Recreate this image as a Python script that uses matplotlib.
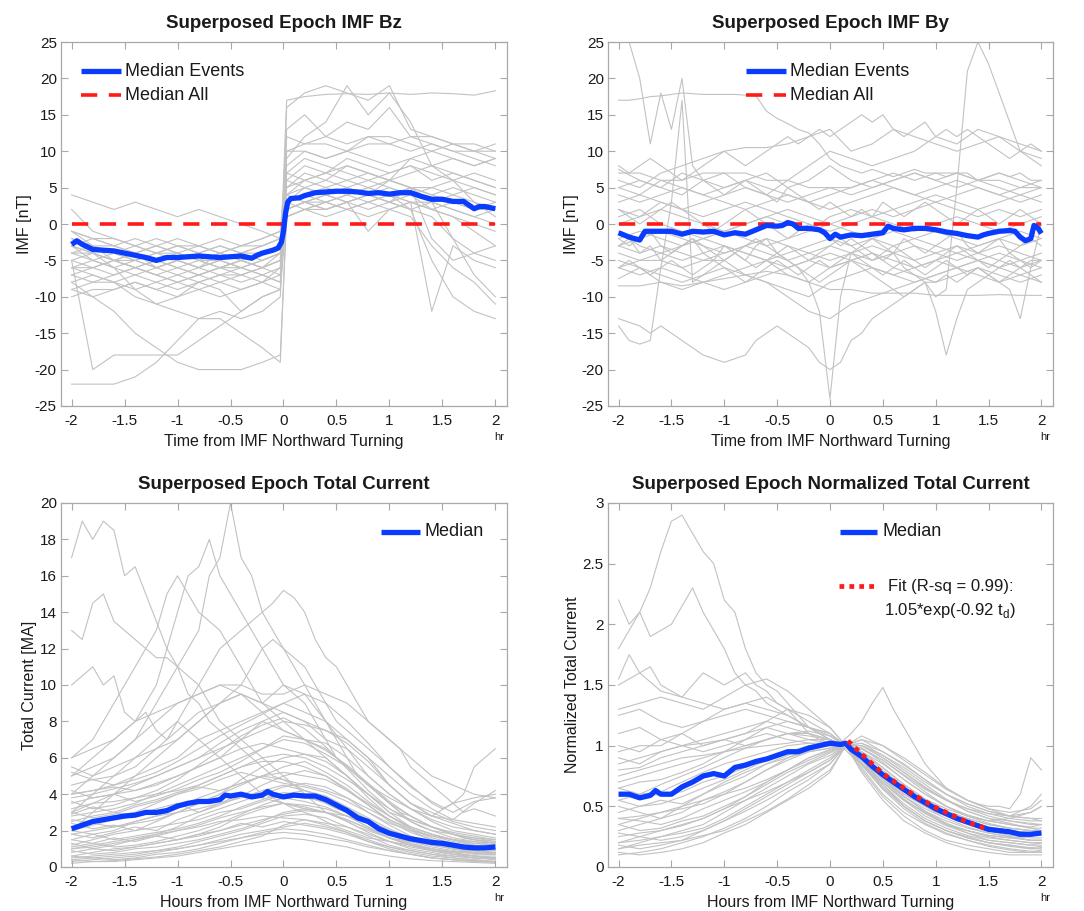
import matplotlib
matplotlib.use('Agg')
import matplotlib.pyplot as plt
from matplotlib.lines import Line2D

W, H = 1084, 911
plt.rcParams['font.family'] = ['Liberation Sans', 'DejaVu Sans']
plt.rcParams['axes.unicode_minus'] = False

# ---------------- x tick labels ----------------
X_TICKS = [-2, -1.5, -1, -0.5, 0, 0.5, 1, 1.5, 2]
X_TICKLABELS = ['-2', '-1.5', '-1', '-0.5', '0', '0.5', '1', '1.5', '2']

# ---------------- Panel 1: IMF Bz ----------------
T_BZ = [-2, -1.8, -1.6, -1.4, -1.2, -1.0, -0.8, -0.6, -0.4, -0.2, -0.03,
        0.03, 0.2, 0.4, 0.6, 0.8, 1.0, 1.2, 1.4, 1.6, 1.8, 2.0]
BZ_EVENTS = [
    [-3, -4, -5, -4, -5, -4, -5, -6, -5, -4, -3, 3, 4, 5, 4, 5, 4, 5, 4, 3, 2, 2],
    [-2, -3, -3, -4, -3, -4, -3, -4, -3, -3, -2, 2, 3, 3, 4, 3, 4, 3, 3, 2, 1, 0],
    [-5, -6, -7, -6, -7, -6, -7, -6, -6, -5, -4, 5, 6, 7, 6, 7, 6, 5, 5, 4, 5, 4],
    [-1, -2, -2, -3, -2, -3, -3, -2, -3, -2, -1, 6, 8, 7, 9, 8, 7, 8, 6, 7, 6, 5],
    [-7, -8, -8, -9, -8, -7, -8, -7, -8, -7, -6, 8, 10, 9, 10, 9, 8, 9, 10, 9, 8, 9],
    [-4, -5, -6, -5, -6, -7, -6, -5, -6, -7, -8, 16, 18, 19, 18, 17, 19, 13, 12, 11, 10, 10],
    [-9, -10, -9, -8, -9, -10, -9, -8, -9, -8, -7, 10, 11, 11, 10, 11, 11, 10, 11, 10, 10, 11],
    [-22, -22, -22, -21, -19, -16, -13, -13, -15, -17, -19, 2, 3, 4, 3, 4, 3, 4, 2, 3, 2, 3],
    [-5, -20, -18, -18, -18, -18, -16, -14, -12, -10, -9, 1, 2, 3, 2, 3, 4, 2, -5, -10, -12, -13],
    [-8, -10, -12, -15, -17, -19, -20, -20, -20, -19, -18, 1, 2, 2, 3, 2, 3, 2, 1, -2, -4, -5],
    [-6, -7, -8, -10, -11, -12, -13, -12, -13, -12, -10, 12, 11, 12, 11, 12, 12, 11, 10, 11, 11, 10],
    [-3, -4, -5, -6, -5, -6, -7, -6, -5, -6, -5, 17, 17.5, 17.8, 17.9, 17.8, 18, 17.8, 18, 17.9, 17.7, 18.3],
    [-4, -4, -5, -5, -4, -5, -6, -5, -4, -3, -2, 9, 12, 14, 19, 15, 18, 14, 8, 6, 3, 1],
    [-2, -3, -4, -3, -4, -4, -5, -5, -4, -4, -3, 1, 2, 1, 2, 1, 2, 1, -3, -6, -8, -11],
    [-6, -5, -6, -7, -6, -5, -6, -7, -7, -6, -5, 4, 5, 4, 3, 4, 3, 5, 3, -2, -7, -10],
    [2, -1, -2, -3, -4, -3, -4, -3, -4, -3, -2, 7, 6, 7, 8, 7, 6, 7, 8, 9, 8, 9],
    [-3, -5, -4, -5, -6, -5, -4, -5, -6, -5, -4, 3, 2, 3, 2, 3, 2, 3, 2, 1, -1, -3],
    [-8, -7, -8, -7, -8, -9, -8, -7, -6, -7, -8, 2, 3, 2, 3, -1, 2, 3, -12, -3, -5, -6],
    [-1, -2, -3, -2, -3, -2, -3, -4, -3, -2, -1, 10, 10, 9, 10, 12, 11, 12, 12, 11, 10, 9],
    [-10, -9, -9, -8, -9, -8, -9, -10, -9, -8, -9, 4, 6, 5, 6, 5, 6, 5, 4, 5, 4, 3],
    [4, 3, 2, 3, 2, 1, 2, 1, 0, -1, -2, 3, 4, 3, 4, 5, 4, 3, 2, 1, 0, -1],
    [-5, -4, -6, -9, -11, -10, -8, -9, -12, -10, -9, 5, 7, 6, 8, 7, 6, 9, 8, 7, 6, 5],
    [-4, -3, -4, -5, -4, -3, -4, -3, -4, -5, -4, 2, 3, 4, 5, 4, 5, 4, 3, 4, 3, 2],
    [-6, -6, -5, -6, -7, -8, -7, -8, -7, -6, -7, 6, 5, 4, 5, 6, 5, 4, 5, 6, 5, 4],
    [-3, -2, -3, -4, -3, -4, -5, -4, -5, -4, -3, 4, 3, 2, 3, 4, 3, 2, 3, 2, 1, 2],
    [-7, -6, -5, -6, -5, -6, -5, -6, -5, -6, -5, 7, 9, 8, 7, 6, 7, 8, 7, 6, 7, 6],
    [-1, -3, -5, -4, -6, -5, -6, -4, -5, -6, -4, 3, 5, 6, 5, 4, 6, 5, -2, -5, -4, -3],
    [-9, -8, -7, -6, -7, -8, -7, -6, -7, -8, -6, 13, 15, 12, 14, 13, 16, 12, 11, 10, 9, 8],
]
T_BZ_MED = [-2, -1.95, -1.9, -1.8, -1.7, -1.6, -1.5, -1.4, -1.3, -1.2, -1.1, -1.0,
            -0.9, -0.8, -0.7, -0.6, -0.5, -0.4, -0.3, -0.25, -0.2, -0.1, -0.05, -0.02,
            0, 0.02, 0.04, 0.07, 0.15, 0.2, 0.3, 0.4, 0.5, 0.6, 0.7, 0.8, 0.9, 1.0,
            1.1, 1.2, 1.3, 1.4, 1.5, 1.6, 1.7, 1.8, 1.85, 1.9, 2.0]
BZ_MEDIAN = [-2.8, -2.3, -2.8, -3.5, -3.6, -3.7, -4.0, -4.3, -4.6, -5.0, -4.6, -4.6,
             -4.5, -4.4, -4.5, -4.6, -4.5, -4.4, -4.7, -4.3, -4.0, -3.6, -3.3, -2.5,
             -1.0, 1.5, 3.0, 3.5, 3.6, 3.9, 4.3, 4.4, 4.5, 4.5, 4.4, 4.2, 4.3, 4.1,
             4.3, 4.3, 3.8, 3.4, 3.4, 3.1, 3.1, 2.1, 2.4, 2.4, 2.1]
MEDIAN_ALL_T = [-2, 2]
BZ_MEDIAN_ALL = [0, 0]

# ---------------- Panel 2: IMF By ----------------
T_BY = [-2, -1.8, -1.6, -1.4, -1.2, -1.0, -0.8, -0.6, -0.4, -0.2, 0,
        0.2, 0.4, 0.6, 0.8, 1.0, 1.2, 1.4, 1.6, 1.8, 2.0]
BY_EVENTS = [
    [5, 6, 5, 7, 6, 5, 6, 7, 5, 6, 8, 6, 5, 6, 7, 6, 5, 6, 7, 6, 5],
    [-3, -4, -3, -4, -5, -4, -3, -4, -5, -4, -3, -4, -5, -4, -3, -4, -5, -4, -3, -4, -5],
    [-8.5, -8.5, -8, -8.5, -8, -7.5, -7, -6.5, -7, -8, -9, -9, -9.5, -9.5, -9.5, -9.8, -9.8, -9.8, -9.7, -9.8, -9.8],
    [3, 4, 3, 2, 3, 4, 5, 4, 3, 4, 5, 4, 5, 6, 7, 6, 7, 6, 5, 4, 5],
    [-2, -1, -2, -3, -2, -1, -2, -3, -2, -1, 0, -1, -2, -3, -2, -1, -2, -3, -2, -1, -2],
    [7, 7, 6, 6, 7, 7, 7, 6, 6, 5, 5, 5, 6, 7, 6, 7, 7, 6, 6, 5, 5],
    [-5, -6, -7, -8, -7, -6, -7, -8, -9, -10, -8, -7, -6, -7, -8, -7, -6, -5, -6, -7, -8],
    [0, 1, 2, 1, 0, -1, 0, 1, 2, 1, 0, 1, 2, 1, 2, 3, 2, 1, 2, 1, 2],
    [-4, -5, -5, -6, -5, -5, -7, -8, -10, -12, -13, -11, -10, -9, -8, -7, -6, -5, -4, -5, -6],
    [4, 3, 4, 5, 4, 3, 2, 3, 4, 3, 2, 3, 4, 5, 4, 3, 4, 5, 4, 3, 4],
    [-6, -7, -6, -7, -8, -9, -8, -7, -6, -5, -6, -5, -4, -5, -6, -5, -4, -5, -6, -5, -4],
    [6, 5, 7, 8, 9, 10, 10.5, 10.5, 11, 12, 13, 10, 11, 13, 12, 11, 10, 11, 12, 11, 10],
    [-1, -3, -4, -3, -2, -3, -4, -5, -4, -3, -2, -3, -2, -1, -2, -3, -4, -3, -2, -3, -2],
    [1, 2, 0, -1, -2, -1, 0, 1, 0, -1, 1, 2, 1, 0, -1, 0, 1, 0, -1, 0, 1],
    [-7.5, -6, -8, -9, -8, -7, -6, -5, -7, -8, -6, -5, -4, -6, -7, -8, -7, -6, -7, -8, -7],
    [7.5, 6, 5, 4, 6, 7, 5, 4, 6, 8, 10, 9, 8, 9, 10, 12, 11, 13, 12, 10, 9],
    [2, 1, 3, 2, 1, 2, 3, 2, 1, 0, -1, 0, 1, 2, 3, 4, 3, 2, 3, 4, 3],
    [-3, -2, -1, -2, -3, -4, -3, -2, -3, -4, -5, -4, -3, -4, -5, -4, -3, -4, -5, -6, -5],
    [5, 4, 6, 5, 4, 5, 6, 5, 4, 3, 4, 5, 6, 5, 4, 5, 6, 5, 4, 5, 6],
    [-6, -5, -4, -5, -4, -3, -4, -5, -6, -5, -4, -5, -6, -7, -6, -5, -6, -7, -8, -7, -6],
]
T_BY_FINE = [-2.0, -1.9, -1.8, -1.7, -1.6, -1.5, -1.4, -1.3, -1.2, -1.1,
             -1.0, -0.9, -0.8, -0.7, -0.6, -0.5, -0.4, -0.3, -0.2, -0.1,
             0.0, 0.1, 0.2, 0.3, 0.4, 0.5, 0.6, 0.7, 0.8, 0.9,
             1.0, 1.1, 1.2, 1.3, 1.4, 1.5, 1.6, 1.7, 1.8, 1.9, 2.0]
BY_EVENTS_FINE = [
    [17, 17, 17.2, 17.5, 17.6, 17.8, 18, 17.9, 17.8, 17.8, 17.8, 17.8, 17.7, 17.6, 15.5, 14.5, 13.8, 13, 12.5, 11,
     9, 8, 7.5, 7, 7.5, 7, 6.5, 7, 7.5, 7, 7, 6.5, 7, 7, 6, 6.5, 7, 6.5, 7, 6, 6],
    [25, 25, 20, 11, 18, 13, 20, 8, 6, 5, 4, 5, 6, 5, 4, 3, 5, 4, 3, 2,
     3, 2, 1, 2, 1, 3, 2, 1, 2, 3, 2, 1, 0, 1, 2, 1, 0, 1, 2, 1, 0],
    [-14, -16, -16.5, -16, -6, 3, 17, -8, -7, -6, -5, -4, -5, -6, -5, -4, -3, -4, -5, -4,
     -3, -2, -3, -4, -5, -4, -3, -4, -5, -6, -5, -4, -3, -4, -5, -6, -5, -4, -5, -6, -5],
    [-13, -13.5, -14, -15, -14, -15, -16, -17, -18, -18.5, -19, -18.5, -18, -16, -15, -14, -15, -16, -17, -19,
     -20, -19, -16, -15, -13, -12, -11, -10, -9, -8, -8, -7, -8, -7, -6, -7, -6, -5, -6, -5, -5],
    [-3, -2, -4, -3, -5, -4, -3, -2, -4, -5, -3, -4, -5, -3, -2, -4, -5, -6, -8, -12,
     -24, -10, -4, -3, -2, -3, -4, -2, -3, -4, -3, -2, -1, -3, -4, -3, -2, -4, -3, -2, -3],
    [-2, -3, -2, -1, -3, -4, -3, -2, -3, -4, -5, -4, -3, -2, -3, -4, -5, -6, -7, -8,
     -7, -6, -5, -6, -7, -8, -9, -10, -9, -8, -10, -9, 5, 21, 25, 22, 18, 14, 10, 9, 8],
    [2, 1, 0, 1, 2, 3, 2, 1, 0, -1, 0, 1, 2, 1, 0, -1, -2, -1, 0, -1,
     -2, -3, -2, -3, -4, -5, -4, -6, -7, -8, -12, -18, -13, -9, -8, -7, -8, -7, -6, -7, -8],
    [-6, -5, -6, -7, -6, -5, -6, -7, -6, -5, -6, -7, -8, -7, -6, -5, -6, -7, -6, -5,
     -6, -5, -4, -5, -6, -7, -6, -5, -6, -7, -6, -5, -6, -7, -6, -7, -8, -9, -13, -6, 0],
    [8, 7, 8, 9, 8, 7, 6, 7, 8, 9, 10, 9, 8, 9, 10, 11, 12, 11, 12, 13,
     12, 13, 14, 15, 14, 15, 13, 12, 13, 14, 12, 13, 12, 13, 12, 11, 10, 9, 10, 11, 10],
]
T_BY_MED = [-2, -1.9, -1.8, -1.75, -1.6, -1.5, -1.4, -1.3, -1.2, -1.1, -1.0, -0.9, -0.8,
            -0.7, -0.6, -0.5, -0.45, -0.4, -0.35, -0.3, -0.2, -0.1, -0.05, 0, 0.05, 0.1,
            0.2, 0.3, 0.4, 0.5, 0.55, 0.6, 0.7, 0.8, 0.9, 1.0, 1.1, 1.2, 1.3, 1.4, 1.45,
            1.5, 1.6, 1.7, 1.75, 1.8, 1.85, 1.9, 1.93, 1.97, 2.0]
BY_MEDIAN = [-1.2, -1.8, -2.2, -1.0, -1.0, -1.0, -1.4, -1.0, -1.1, -1.0, -1.5, -1.2, -1.4,
             -0.8, -0.2, -0.3, -0.2, 0.2, 0.0, -0.6, -0.6, -0.8, -1.2, -2.0, -1.4, -1.8,
             -1.5, -1.6, -1.4, -1.2, -0.3, -0.6, -0.8, -0.6, -0.6, -0.8, -1.1, -1.3, -1.6,
             -1.8, -1.5, -1.3, -1.0, -0.9, -1.0, -1.8, -2.3, -2.0, -0.2, -0.6, -1.3]
BY_MEDIAN_ALL = [0, 0]

# ---------------- Panel 3: Total current ----------------
T_TC = [-2, -1.8, -1.6, -1.4, -1.2, -1.0, -0.8, -0.6, -0.4, -0.2, 0,
        0.2, 0.4, 0.6, 0.8, 1.0, 1.2, 1.4, 1.6, 1.8, 2.0]
TC_EVENTS = [
    [2, 2.3, 2.6, 2.8, 3, 3.4, 3.6, 3.8, 4, 4, 3.9, 3.8, 3.6, 3.2, 2.6, 2, 1.6, 1.4, 1.2, 1.1, 1],
    [1, 1.2, 1.4, 1.6, 1.8, 2, 2.2, 2.5, 2.6, 2.8, 2.7, 2.6, 2.4, 2.2, 1.8, 1.4, 1.1, 0.9, 0.7, 0.6, 0.5],
    [3, 3.5, 4, 4.2, 4.5, 5, 5.5, 6, 6.5, 6.8, 6.5, 6.2, 5.8, 5, 4, 3, 2.2, 1.8, 1.5, 1.3, 1.2],
    [0.5, 0.6, 0.7, 0.8, 0.9, 1, 1.2, 1.4, 1.6, 1.8, 1.9, 1.8, 1.6, 1.4, 1.1, 0.9, 0.7, 0.5, 0.4, 0.3, 0.3],
    [4, 4.2, 4.5, 5, 5.5, 6, 7, 7.5, 8, 8.5, 9, 8.5, 8, 7, 6, 4.5, 3.5, 3, 2.5, 2.2, 2],
    [1.5, 1.8, 2, 2.5, 2.8, 3, 3.5, 4, 4.5, 5, 5.2, 5, 4.8, 4.2, 3.5, 2.8, 2.2, 1.8, 1.5, 1.2, 1],
    [5.5, 5, 5.5, 6, 6.5, 7, 8, 9, 9.5, 9, 10, 9.5, 8, 6.5, 5, 4, 3.2, 2.6, 2.2, 2, 1.8],
    [2.5, 2.8, 3, 2.8, 3.2, 3.5, 3, 3.5, 4, 3.8, 3.5, 3.2, 3, 2.8, 2.5, 2, 1.6, 1.3, 1, 0.9, 0.8],
    [0.8, 1, 1.2, 1.5, 1.8, 2.2, 2.8, 3.2, 3.6, 4, 4.4, 4.6, 4.4, 3.8, 3, 2.3, 1.7, 1.3, 1, 0.8, 0.7],
    [3.5, 3.8, 4, 4.5, 5, 5.5, 6, 6.5, 7, 7.5, 8, 7.8, 7.5, 6.8, 5.8, 4.5, 3.5, 2.8, 2.4, 2, 1.8],
    [1.2, 1.5, 1.8, 2, 2.5, 3, 3.2, 3.5, 3.8, 4.2, 4.5, 4.2, 3.8, 3.2, 2.5, 1.8, 1.3, 1, 0.8, 0.6, 0.5],
    [4.5, 4.8, 5, 5.5, 6.5, 7.5, 8.5, 9, 9.5, 9, 8.5, 8, 7.5, 7, 6, 5, 4, 3.2, 2.6, 2.4, 2.2],
    [0.3, 0.4, 0.5, 0.6, 0.8, 1, 1.2, 1.5, 1.8, 2, 2.2, 2.4, 2.2, 1.9, 1.5, 1.1, 0.8, 0.6, 0.5, 0.4, 0.3],
    [2.8, 3, 3.2, 3.5, 4, 4.5, 5, 5.5, 6, 6.5, 7, 6.8, 6.2, 5.5, 4.5, 3.5, 2.8, 2.2, 1.8, 1.6, 1.4],
    [1.8, 2, 2.2, 2.4, 2.6, 3, 3.5, 4, 4.8, 5.5, 6, 6.2, 6, 5, 3.8, 2.8, 2.1, 1.6, 1.3, 1.1, 1],
    [6, 6.5, 7, 8, 8.5, 9, 9.5, 10, 10, 9.5, 9.5, 10, 9.5, 9, 8, 7, 6, 5, 4.5, 4, 3.8],
    [0.6, 0.8, 1, 1.1, 1.3, 1.5, 1.8, 2.2, 2.8, 3.2, 3.5, 3.4, 3.2, 2.8, 2.2, 1.6, 1.2, 0.9, 0.7, 0.5, 0.4],
    [3.2, 3.5, 3.6, 3.8, 4, 4.2, 4.5, 5, 5.5, 6, 6.2, 6, 5.5, 4.8, 4, 3.2, 2.6, 2.2, 1.9, 1.7, 1.5],
    [2.2, 2.5, 2.8, 3, 3.5, 4, 4.5, 5, 5.5, 5.8, 5.8, 5.5, 5, 4.2, 3.4, 2.6, 2, 1.5, 1.2, 1, 0.9],
    [1, 1.1, 1.3, 1.5, 1.7, 2, 2.3, 2.7, 3, 3.3, 3.5, 3.3, 3, 2.6, 2.1, 1.6, 1.2, 0.9, 0.8, 0.6, 0.5],
    [4, 4.2, 4.4, 4.2, 4.6, 5, 5.5, 6, 7, 8, 8.5, 8, 7, 6.5, 5.5, 4.5, 3.5, 2.8, 3.5, 3.8, 4],
    [5, 5.5, 6, 7, 8, 9, 9.5, 10, 9.5, 8.5, 7.5, 7, 6.5, 5.5, 4.5, 3.8, 3.2, 2.8, 2.6, 3.5, 4.2],
    [2.6, 2.4, 2.2, 2.5, 2.8, 3.2, 3.8, 4.2, 4.6, 5, 5.5, 5.8, 5.2, 4.5, 3.6, 2.8, 2.2, 1.8, 1.5, 1.3, 1.2],
    [0.4, 0.5, 0.6, 0.7, 0.9, 1.1, 1.4, 1.7, 2, 2.4, 2.8, 2.9, 2.7, 2.2, 1.7, 1.2, 0.9, 0.7, 0.5, 0.4, 0.3],
    [3.8, 4, 4.3, 4.6, 5, 5.5, 6, 6.8, 7.5, 8, 7.5, 7, 6.8, 6, 5, 4, 3.2, 2.5, 2, 1.8, 1.6],
    [0.2, 0.3, 0.3, 0.4, 0.5, 0.6, 0.8, 1.0, 1.2, 1.4, 1.6, 1.5, 1.3, 1.1, 0.8, 0.6, 0.45, 0.35, 0.3, 0.25, 0.2],
    [1.5, 1.3, 1.6, 1.4, 1.7, 1.5, 1.8, 2, 2.4, 2.2, 2.5, 2.3, 2.1, 1.8, 1.4, 1.1, 0.9, 0.7, 0.6, 0.5, 0.5],
    [0.9, 0.7, 0.8, 1, 1.1, 1.3, 1.5, 1.8, 2.1, 2.5, 3, 3.2, 3, 2.5, 1.9, 1.4, 1, 0.8, 0.6, 0.5, 0.45],
    [2.4, 2.1, 2.3, 2, 2.2, 2.4, 2.6, 3, 3.2, 3.6, 4, 4.2, 3.9, 3.3, 2.7, 2.1, 1.6, 1.2, 1, 0.9, 0.8],
    [3, 2.7, 2.9, 3.3, 3.6, 4, 4.3, 4.8, 5.2, 4.9, 4.6, 4.4, 4.1, 3.6, 3, 2.4, 2, 1.7, 1.5, 1.4, 1.3],
    [0.6, 0.5, 0.4, 0.5, 0.7, 0.8, 1, 1.3, 1.6, 1.9, 2.1, 2, 1.8, 1.5, 1.2, 0.9, 0.7, 0.5, 0.4, 0.35, 0.3],
    [1.8, 1.6, 1.9, 2.2, 2, 2.6, 3, 3.4, 3.9, 4.5, 5, 5.3, 5, 4.3, 3.4, 2.5, 1.9, 1.5, 1.2, 1.1, 1],
    [4.2, 3.8, 4, 3.6, 3.9, 4.3, 4.8, 5.2, 5.8, 6.5, 7.2, 7, 6.4, 5.6, 4.6, 3.6, 2.8, 2.2, 1.8, 1.5, 1.4],
    [2, 1.8, 1.5, 1.7, 1.9, 2.1, 2.4, 2.8, 3.3, 3.7, 4.1, 3.9, 3.5, 3, 2.4, 1.8, 1.4, 1.1, 0.9, 0.8, 0.7],
    [1.1, 1.3, 1.1, 1.2, 1.4, 1.7, 2, 2.4, 2.9, 3.4, 3.8, 3.6, 3.3, 2.8, 2.2, 1.6, 1.2, 0.9, 0.7, 0.6, 0.6],
    [0.4, 0.3, 0.35, 0.45, 0.55, 0.7, 0.9, 1.1, 1.4, 1.7, 2.3, 2.6, 2.3, 1.9, 1.4, 1, 0.7, 0.5, 0.4, 0.3, 0.25],
    [3.6, 3.2, 3.4, 3.8, 4.2, 4.8, 5.6, 6.4, 7.2, 7.8, 8.2, 7.6, 6.6, 5.4, 4.2, 3.2, 2.5, 2, 1.8, 1.6, 1.5],
    [2.9, 3.3, 3, 3.4, 3.7, 4.1, 4.4, 4.2, 4.6, 5, 4.8, 4.5, 4.2, 3.8, 3.2, 2.6, 2.1, 1.7, 1.4, 1.2, 1.1],
    [5.2, 4.8, 4.5, 4.8, 5.2, 5.8, 6.5, 7.2, 7.8, 8.4, 9, 9.5, 9, 8, 6.8, 5.5, 4.4, 3.6, 3, 3.6, 3.8],
    [1.3, 1, 0.9, 1.1, 1.3, 1.5, 1.7, 2, 2.3, 2.6, 2.9, 3.1, 3, 2.6, 2.1, 1.6, 1.3, 1, 0.85, 0.75, 0.7],
]
T_TC_FINE = T_BY_FINE
TC_EVENTS_FINE = [
    [17, 19, 18, 19, 18.5, 16, 16.5, 15, 13.5, 12, 11, 9.5, 9, 8, 7.5, 7, 6.5, 6, 5.5, 5,
     4.8, 4.5, 4.2, 4, 3.5, 3.2, 3, 2.6, 2.4, 2.2, 2, 1.8, 1.6, 1.5, 1.3, 1.2, 1.1, 1.0, 0.9, 1.0, 0.9],
    [13, 12.5, 14.5, 15, 13.5, 13, 12.5, 12, 11.5, 11.5, 11, 10.5, 10, 9, 8, 7.5, 7, 6.5, 6, 5.5,
     5, 4.5, 4, 3.5, 3, 2.8, 2.5, 2.2, 2, 1.8, 1.6, 1.5, 1.4, 1.3, 1.2, 1.1, 1, 0.9, 0.9, 0.8, 0.8],
    [10, 10.5, 11, 10, 10.5, 8.5, 8, 8.5, 7.5, 7, 8, 7.5, 7, 6.5, 6, 5.5, 5, 4.5, 4, 3.8,
     3.5, 3.2, 3, 2.8, 2.5, 2.2, 2, 1.8, 1.6, 1.5, 1.4, 1.3, 1.2, 1.1, 1, 0.9, 0.8, 0.8, 0.7, 0.7, 0.7],
    [4, 4.5, 5, 5.5, 6, 6.5, 7, 8, 9, 10, 11, 12, 13, 16, 17, 20, 17, 16, 14, 13,
     12, 11, 10, 9, 8, 7, 6, 5, 4.5, 4, 3.5, 3, 2.5, 2.2, 2, 1.8, 1.6, 1.5, 1.4, 1.3, 1.2],
    [5, 5.5, 6, 6.5, 7, 7.5, 8, 9, 10, 12, 14, 16, 16.5, 18, 16, 15, 14, 13, 12, 11,
     10, 9.5, 9, 8, 7, 6, 5.5, 5, 4.5, 4, 3.5, 3, 2.8, 2.5, 2.2, 2, 1.8, 1.6, 1.5, 1.4, 1.3],
    [3, 3.5, 4, 4.5, 5, 5.5, 6, 6.5, 7, 7.5, 8, 9, 10, 11, 12, 12.5, 13, 13.5, 14, 14.5,
     15.2, 14.8, 14, 12.5, 11.5, 11, 10, 9, 8, 7.5, 7, 6.5, 5.5, 5, 4.5, 4, 3.5, 3, 3.2, 3, 2.8],
    [2, 2.5, 3, 3.5, 4, 4.5, 5, 5.5, 6, 6.5, 7, 7.5, 8, 8.5, 9, 9.5, 10, 11, 12, 12.5,
     12, 11.5, 11, 10, 9, 8, 7.5, 7, 6.5, 6, 5.5, 5, 4.5, 4, 3.5, 3.2, 3.5, 4, 5.5, 6, 6.5],
    [6, 6.5, 7, 8, 9, 10, 11, 12, 13, 15, 16, 15, 14, 13.5, 13, 12, 11, 10, 9, 8.5,
     8, 7.5, 7, 6.5, 6, 5.5, 5, 4.5, 4, 3.5, 3, 2.8, 2.6, 2.4, 2.2, 2, 1.8, 1.6, 1.5, 1.4, 1.3],
]
T_TC_MED = [-2, -1.9, -1.8, -1.7, -1.6, -1.5, -1.4, -1.3, -1.2, -1.1, -1.0, -0.9, -0.8,
            -0.7, -0.6, -0.55, -0.5, -0.4, -0.3, -0.2, -0.15, -0.1, 0, 0.1, 0.2, 0.3,
            0.4, 0.5, 0.6, 0.7, 0.8, 0.9, 1.0, 1.1, 1.2, 1.3, 1.4, 1.5, 1.6, 1.7, 1.8, 1.9, 2.0]
TC_MEDIAN = [2.1, 2.3, 2.5, 2.6, 2.7, 2.8, 2.85, 3.0, 3.0, 3.1, 3.35, 3.5, 3.6, 3.6, 3.7,
             3.95, 3.9, 4.0, 3.85, 3.95, 4.15, 4.0, 3.85, 3.95, 3.9, 3.9, 3.7, 3.4, 3.1,
             2.7, 2.5, 2.1, 1.85, 1.7, 1.55, 1.45, 1.35, 1.3, 1.2, 1.1, 1.05, 1.05, 1.1]

# ---------------- Panel 4: Normalized total current ----------------
T_NC = [-2, -1.8, -1.6, -1.4, -1.2, -1.0, -0.8, -0.6, -0.4, -0.2, 0,
        0.15, 0.3, 0.5, 0.7, 0.9, 1.1, 1.3, 1.5, 1.7, 1.9, 2.0]
NC_EVENTS = [
    [0.6, 0.58, 0.6, 0.62, 0.7, 0.75, 0.82, 0.88, 0.94, 0.98, 1.0, 1.0, 0.92, 0.78, 0.64, 0.53, 0.45, 0.38, 0.32, 0.3, 0.28, 0.28],
    [0.3, 0.35, 0.4, 0.45, 0.55, 0.62, 0.7, 0.8, 0.88, 0.95, 0.98, 1.0, 0.88, 0.7, 0.55, 0.45, 0.35, 0.28, 0.22, 0.2, 0.18, 0.18],
    [0.9, 0.85, 0.95, 1.0, 1.05, 1.1, 1.15, 1.2, 1.15, 1.1, 1.05, 1.0, 1.0, 0.9, 0.78, 0.65, 0.55, 0.48, 0.42, 0.38, 0.35, 0.35],
    [0.15, 0.2, 0.25, 0.3, 0.35, 0.45, 0.55, 0.65, 0.75, 0.85, 0.92, 1.0, 0.85, 0.65, 0.5, 0.38, 0.3, 0.25, 0.2, 0.18, 0.15, 0.15],
    [1.25, 1.3, 1.2, 1.15, 1.2, 1.25, 1.3, 1.25, 1.2, 1.15, 1.1, 1.0, 0.95, 0.85, 0.72, 0.6, 0.5, 0.42, 0.38, 0.35, 0.32, 0.3],
    [0.45, 0.5, 0.55, 0.52, 0.6, 0.68, 0.75, 0.85, 0.92, 1.0, 1.0, 1.0, 0.9, 0.72, 0.58, 0.48, 0.4, 0.33, 0.28, 0.25, 0.22, 0.22],
    [0.7, 0.75, 0.8, 0.85, 0.9, 0.95, 1.0, 1.05, 1.1, 1.08, 1.05, 1.0, 0.97, 0.88, 0.75, 0.62, 0.5, 0.42, 0.36, 0.32, 0.3, 0.3],
    [0.2, 0.22, 0.25, 0.28, 0.32, 0.4, 0.5, 0.6, 0.7, 0.8, 0.9, 1.0, 0.82, 0.6, 0.45, 0.35, 0.27, 0.22, 0.18, 0.15, 0.13, 0.13],
    [1.0, 0.95, 1.05, 1.1, 1.0, 1.05, 1.1, 1.15, 1.1, 1.05, 1.02, 1.0, 1.05, 0.95, 0.85, 0.72, 0.6, 0.52, 0.46, 0.42, 0.5, 0.6],
    [0.5, 0.45, 0.4, 0.5, 0.55, 0.6, 0.65, 0.72, 0.8, 0.88, 0.95, 1.0, 0.9, 0.75, 0.6, 0.5, 0.42, 0.36, 0.3, 0.26, 0.24, 0.24],
    [0.35, 0.3, 0.32, 0.38, 0.42, 0.5, 0.58, 0.68, 0.78, 0.86, 0.94, 1.0, 0.85, 0.68, 0.52, 0.4, 0.32, 0.26, 0.22, 0.2, 0.18, 0.2],
    [0.8, 0.82, 0.9, 0.95, 1.0, 1.05, 1.0, 1.05, 1.1, 1.1, 1.05, 1.0, 1.02, 0.92, 0.8, 0.68, 0.56, 0.46, 0.4, 0.36, 0.32, 0.32],
    [0.1, 0.12, 0.15, 0.2, 0.25, 0.32, 0.4, 0.5, 0.62, 0.72, 0.85, 1.0, 0.8, 0.58, 0.42, 0.3, 0.22, 0.18, 0.15, 0.12, 0.12, 0.12],
    [0.65, 0.6, 0.62, 0.7, 0.78, 0.85, 0.9, 0.95, 1.0, 1.02, 1.02, 1.0, 0.95, 0.82, 0.68, 0.56, 0.46, 0.4, 0.35, 0.32, 0.3, 0.3],
    [1.1, 1.15, 1.05, 1.0, 0.95, 1.0, 1.05, 1.1, 1.05, 1.02, 1.0, 1.0, 0.98, 0.88, 0.76, 0.64, 0.55, 0.48, 0.44, 0.42, 0.45, 0.5],
    [0.25, 0.28, 0.3, 0.35, 0.4, 0.48, 0.55, 0.62, 0.7, 0.78, 0.88, 1.0, 0.88, 0.7, 0.55, 0.42, 0.34, 0.28, 0.24, 0.22, 0.2, 0.2],
    [0.55, 0.5, 0.52, 0.58, 0.65, 0.72, 0.8, 0.88, 0.95, 1.0, 1.02, 1.0, 0.92, 0.76, 0.62, 0.52, 0.44, 0.38, 0.33, 0.3, 0.28, 0.28],
    [0.4, 0.42, 0.45, 0.5, 0.6, 0.7, 0.78, 0.85, 0.9, 0.95, 0.98, 1.0, 0.86, 0.68, 0.5, 0.38, 0.3, 0.24, 0.2, 0.17, 0.15, 0.16],
    [0.75, 0.8, 0.85, 0.9, 0.92, 0.95, 0.98, 1.0, 1.02, 1.05, 1.05, 1.0, 1.0, 0.92, 0.82, 0.7, 0.6, 0.52, 0.46, 0.42, 0.4, 0.4],
    [0.15, 0.18, 0.2, 0.22, 0.26, 0.3, 0.38, 0.46, 0.56, 0.68, 0.8, 1.0, 0.84, 0.64, 0.48, 0.36, 0.28, 0.22, 0.17, 0.14, 0.12, 0.14],
    [1.3, 1.35, 1.4, 1.35, 1.3, 1.4, 1.5, 1.55, 1.45, 1.3, 1.15, 1.0, 1.0, 0.9, 0.78, 0.66, 0.55, 0.46, 0.4, 0.38, 0.36, 0.35],
    [0.95, 1.0, 1.0, 1.1, 1.2, 1.3, 1.35, 1.4, 1.3, 1.2, 1.1, 1.0, 1.05, 1.0, 0.9, 0.78, 0.65, 0.55, 0.48, 0.45, 0.48, 0.55],
    [0.12, 0.1, 0.12, 0.15, 0.2, 0.28, 0.35, 0.45, 0.55, 0.65, 0.78, 1.0, 0.78, 0.55, 0.38, 0.28, 0.2, 0.15, 0.12, 0.1, 0.1, 0.1],
    [0.28, 0.25, 0.22, 0.25, 0.3, 0.38, 0.48, 0.58, 0.68, 0.78, 0.88, 1.0, 0.9, 0.72, 0.56, 0.44, 0.35, 0.3, 0.26, 0.24, 0.25, 0.28],
    [0.4, 0.38, 0.35, 0.4, 0.48, 0.55, 0.62, 0.7, 0.8, 0.9, 0.96, 1.0, 0.94, 0.8, 0.66, 0.55, 0.46, 0.4, 0.35, 0.32, 0.3, 0.3],
    [0.55, 0.6, 0.68, 0.75, 0.82, 0.9, 0.98, 1.05, 1.1, 1.12, 1.08, 1.0, 1.08, 1.0, 0.88, 0.76, 0.64, 0.55, 0.48, 0.42, 0.4, 0.38],
    [0.2, 0.25, 0.3, 0.34, 0.4, 0.48, 0.58, 0.7, 0.8, 0.9, 0.97, 1.0, 0.92, 0.74, 0.58, 0.46, 0.38, 0.32, 0.28, 0.25, 0.22, 0.22],
    [0.85, 0.9, 0.95, 1.0, 1.02, 1.05, 1.1, 1.2, 1.3, 1.25, 1.15, 1.0, 0.98, 0.86, 0.72, 0.6, 0.5, 0.43, 0.38, 0.35, 0.33, 0.35],
    [0.35, 0.4, 0.45, 0.48, 0.52, 0.6, 0.7, 0.8, 0.9, 0.98, 1.02, 1.0, 0.95, 0.82, 0.68, 0.56, 0.48, 0.42, 0.38, 0.4, 0.45, 0.5],
    [0.65, 0.7, 0.72, 0.78, 0.85, 0.95, 1.05, 1.15, 1.2, 1.15, 1.08, 1.0, 0.9, 0.74, 0.58, 0.46, 0.36, 0.3, 0.25, 0.22, 0.2, 0.2],
    [0.18, 0.15, 0.18, 0.22, 0.3, 0.38, 0.46, 0.55, 0.65, 0.75, 0.85, 1.0, 0.86, 0.66, 0.5, 0.38, 0.3, 0.24, 0.2, 0.18, 0.16, 0.17],
    [1.5, 1.6, 1.45, 1.4, 1.35, 1.3, 1.35, 1.3, 1.25, 1.15, 1.1, 1.0, 1.02, 0.95, 0.84, 0.72, 0.6, 0.5, 0.44, 0.4, 0.38, 0.38],
]
T_NC_FINE = T_BY_FINE
NC_EVENTS_FINE = [
    [1.8, 1.95, 2.1, 2.3, 2.6, 2.85, 2.9, 2.75, 2.6, 2.5, 2.2, 2.1, 1.8, 1.6, 1.5, 1.45, 1.35, 1.25, 1.15, 1.1,
     1.05, 1.0, 0.95, 0.85, 0.78, 0.7, 0.62, 0.55, 0.5, 0.45, 0.4, 0.36, 0.32, 0.3, 0.28, 0.26, 0.25, 0.24, 0.23, 0.22, 0.22],
    [2.2, 2.0, 2.1, 1.9, 1.95, 2.0, 2.15, 2.3, 2.1, 1.95, 1.8, 1.6, 1.5, 1.45, 1.35, 1.3, 1.25, 1.2, 1.1, 1.05,
     1.02, 1.0, 0.92, 0.85, 0.8, 0.75, 0.68, 0.6, 0.55, 0.5, 0.45, 0.42, 0.4, 0.37, 0.35, 0.33, 0.3, 0.3, 0.28, 0.28, 0.27],
    [1.55, 1.75, 1.6, 1.65, 1.5, 1.45, 1.4, 1.5, 1.6, 1.55, 1.5, 1.55, 1.6, 1.5, 1.45, 1.35, 1.3, 1.2, 1.15, 1.1,
     1.05, 1.02, 1.1, 1.2, 1.35, 1.48, 1.3, 1.15, 1.0, 0.85, 0.75, 0.65, 0.6, 0.55, 0.52, 0.5, 0.5, 0.48, 0.6, 0.9, 0.8],
]
T_NC_MED = [-2, -1.9, -1.8, -1.7, -1.65, -1.6, -1.5, -1.4, -1.3, -1.2, -1.1, -1.0, -0.9,
            -0.8, -0.7, -0.6, -0.5, -0.4, -0.3, -0.2, -0.1, 0, 0.1, 0.15, 0.2, 0.3, 0.4,
            0.5, 0.6, 0.7, 0.8, 0.9, 1.0, 1.1, 1.2, 1.3, 1.4, 1.5, 1.6, 1.7, 1.8, 1.9, 2.0]
NC_MEDIAN = [0.6, 0.6, 0.57, 0.59, 0.63, 0.6, 0.6, 0.66, 0.7, 0.75, 0.77, 0.75, 0.82,
             0.84, 0.87, 0.89, 0.92, 0.95, 0.95, 0.98, 1.0, 1.02, 1.01, 1.02, 0.97, 0.91,
             0.83, 0.76, 0.7, 0.64, 0.58, 0.53, 0.48, 0.44, 0.4, 0.37, 0.34, 0.31, 0.3,
             0.29, 0.27, 0.27, 0.28]
T_FIT = [0.17, 0.3, 0.4, 0.5, 0.6, 0.7, 0.8, 0.9, 1.0, 1.1, 1.2, 1.3, 1.4, 1.5]
NC_FIT = [1.04, 0.93, 0.85, 0.77, 0.71, 0.65, 0.59, 0.54, 0.49, 0.45, 0.41, 0.37, 0.34, 0.31]


def check(name, t, rows):
    for i, r in enumerate(rows):
        if len(r) != len(t):
            raise ValueError(f"{name}[{i}] has {len(r)} values, expected {len(t)}")


check('BZ', T_BZ, BZ_EVENTS)
check('BY', T_BY, BY_EVENTS)
check('BYF', T_BY_FINE, BY_EVENTS_FINE)
check('TC', T_TC, TC_EVENTS)
check('TCF', T_TC_FINE, TC_EVENTS_FINE)
check('NC', T_NC, NC_EVENTS)
check('NCF', T_NC_FINE, NC_EVENTS_FINE)
check('BZM', T_BZ_MED, [BZ_MEDIAN])
check('BYM', T_BY_MED, [BY_MEDIAN])
check('TCM', T_TC_MED, [TC_MEDIAN])
check('NCM', T_NC_MED, [NC_MEDIAN])
check('FIT', T_FIT, [NC_FIT])

# ---------------- styling ----------------
GRAY = '#c2c2c2'
BLUE = '#0a3cff'
RED = '#ff1a1a'
EDGE = '#a8a8a8'
TXT = '#1a1a1a'
RED_DASH = (4.5, 3.2)
GRAY_LW = 0.8

fig = plt.figure(figsize=(W / 100, H / 100), dpi=100)


def px(x, y):
    return x / W, 1 - y / H


def ax_at(l, t, r, b):
    return fig.add_axes([l / W, 1 - b / H, (r - l) / W, (b - t) / H])


def style(ax, ylim, yticks, title, xlabel, ylabel):
    ax.set_xlim(-2.1, 2.11)
    ax.set_ylim(*ylim)
    ax.set_xticks(X_TICKS)
    ax.set_xticklabels(X_TICKLABELS)
    ax.set_yticks(yticks)
    ax.set_yticklabels(['%g' % v for v in yticks])
    ax.tick_params(direction='in', top=True, right=True, length=5, width=0.8,
                   color=EDGE, labelsize=11, labelcolor=TXT)
    ax.tick_params(axis='x', pad=5.5)
    ax.tick_params(axis='y', pad=3)
    for s in ax.spines.values():
        s.set_color(EDGE)
        s.set_linewidth(0.9)
    ax.set_title(title, fontsize=13.5, fontweight='bold', color=TXT, pad=10)
    ax.set_xlabel(xlabel, fontsize=11.5, color=TXT, labelpad=4.5)
    ax.set_ylabel(ylabel, fontsize=11.5, color=TXT, labelpad=2)


def legend_line(x0, x1, y, **kw):
    (fx0, fy), (fx1, _) = px(x0, y), px(x1, y)
    fig.add_artist(Line2D([fx0, fx1], [fy, fy], transform=fig.transFigure, **kw))


def legend_text(x, y, s, size=13):
    fx, fy = px(x, y)
    fig.text(fx, fy, s, fontsize=size, color=TXT, ha='left', va='center')


BLUE_KW = dict(color=BLUE, lw=3.8, solid_capstyle='butt')
RED_KW = dict(color=RED, lw=2.6, dashes=RED_DASH, dash_capstyle='butt')

# Panel 1
ax1 = ax_at(61, 42, 507, 406)
for y in BZ_EVENTS:
    ax1.plot(T_BZ, y, color=GRAY, lw=GRAY_LW, zorder=1)
ax1.plot(MEDIAN_ALL_T, BZ_MEDIAN_ALL, zorder=3, **RED_KW)
ax1.plot(T_BZ_MED, BZ_MEDIAN, zorder=4, **BLUE_KW)
style(ax1, (-25, 25), list(range(-25, 26, 5)), 'Superposed Epoch IMF Bz',
      'Time from IMF Northward Turning', 'IMF [nT]')
legend_line(81, 121, 71, **BLUE_KW)
legend_text(125, 71, 'Median Events')
legend_line(81, 121, 95, **RED_KW)
legend_text(125, 95, 'Median All')

# Panel 2
ax2 = ax_at(608, 42, 1053, 406)
for y in BY_EVENTS:
    ax2.plot(T_BY, y, color=GRAY, lw=GRAY_LW, zorder=1)
for y in BY_EVENTS_FINE:
    ax2.plot(T_BY_FINE, y, color=GRAY, lw=GRAY_LW, zorder=1)
ax2.plot(MEDIAN_ALL_T, BY_MEDIAN_ALL, zorder=3, **RED_KW)
ax2.plot(T_BY_MED, BY_MEDIAN, zorder=4, **BLUE_KW)
style(ax2, (-25, 25), list(range(-25, 26, 5)), 'Superposed Epoch IMF By',
      'Time from IMF Northward Turning', 'IMF [nT]')
legend_line(746, 786, 71, **BLUE_KW)
legend_text(790, 71, 'Median Events')
legend_line(746, 786, 95, **RED_KW)
legend_text(790, 95, 'Median All')

# Panel 3
ax3 = ax_at(61, 503, 507, 867)
for y in TC_EVENTS:
    ax3.plot(T_TC, y, color=GRAY, lw=GRAY_LW, zorder=1)
for y in TC_EVENTS_FINE:
    ax3.plot(T_TC_FINE, y, color=GRAY, lw=GRAY_LW, zorder=1)
ax3.plot(T_TC_MED, TC_MEDIAN, zorder=4, **BLUE_KW)
style(ax3, (0, 20), list(range(0, 21, 2)), 'Superposed Epoch Total Current',
      'Hours from IMF Northward Turning', 'Total Current [MA]')
legend_line(381, 420, 532, **BLUE_KW)
legend_text(424, 532, 'Median')

# Panel 4
ax4 = ax_at(608, 503, 1053, 867)
for y in NC_EVENTS:
    ax4.plot(T_NC, y, color=GRAY, lw=GRAY_LW, zorder=1)
for y in NC_EVENTS_FINE:
    ax4.plot(T_NC_FINE, y, color=GRAY, lw=GRAY_LW, zorder=1)
ax4.plot(T_NC_MED, NC_MEDIAN, zorder=4, **BLUE_KW)
FIT_KW = dict(color=RED, lw=3.4, dashes=(1, 1.1), dash_capstyle='butt')
ax4.plot(T_FIT, NC_FIT, zorder=5, **FIT_KW)
style(ax4, (0, 3), [0, 0.5, 1, 1.5, 2, 2.5, 3], 'Superposed Epoch Normalized Total Current',
      'Hours from IMF Northward Turning', 'Normalized Total Current')
legend_line(840, 877, 532, **BLUE_KW)
legend_text(882, 532, 'Median')
legend_line(839, 876, 586, **FIT_KW)
legend_text(888, 586, 'Fit (R-sq = 0.99):', size=12)
legend_text(884, 611, '1.05*exp(-0.92 t$_\\mathregular{d}$)', size=12)

# "hr" unit labels
for (x, y) in [(499, 437), (1045, 437), (499, 898), (1045, 898)]:
    fx, fy = px(x, y)
    fig.text(fx, fy, 'hr', fontsize=8, color=TXT, ha='center', va='center')

fig.savefig('out.png', dpi=100, facecolor='white')
